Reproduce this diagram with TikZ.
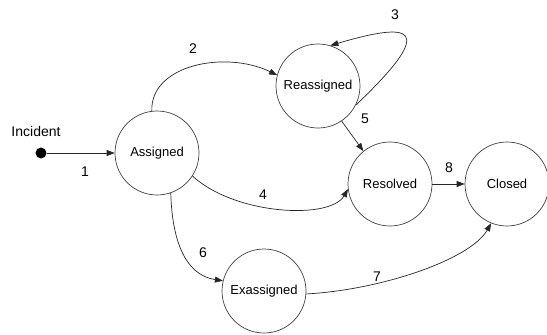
\documentclass[tikz,border=0pt]{standalone}
\usepackage{fontspec}
\setmainfont{Liberation Sans}
\usetikzlibrary{arrows.meta}
\begin{document}
\begin{tikzpicture}[x=1pt,y=-1pt,
  state/.style={draw=black!75,circle,minimum size=84pt,inner sep=0pt,line width=0.7pt,font=\fontsize{13}{15}\selectfont},
  lbl/.style={font=\fontsize{14}{16}\selectfont,inner sep=0pt},
  edge/.style={draw=black!85,line width=0.7pt,-{Triangle[length=8pt,width=6pt]}}]
\useasboundingbox (0,0) rectangle (547,335);
\node[state] (A) at (157,153) {Assigned};
\node[state] (R) at (318,86) {Reassigned};
\node[state] (S) at (390,184) {Resolved};
\node[state] (C) at (507,184) {Closed};
\node[state] (E) at (264,291) {Exassigned};
\node[circle,fill=black,minimum size=11pt,inner sep=0pt] (I) at (41,153) {};
\node[lbl] (It) at (36,131) {Incident};
\draw[edge] (I) -- (A);
\draw[edge] (A.97) .. controls (150,65) and (225,50) .. (R.165);
\draw[edge] (R.-27) .. controls (440,25) and (410,22) .. (R.73);
\draw[edge] (R.-56) -- (S.129);
\draw[edge] (A.-33) .. controls (235,215) and (330,220) .. (S.-173);
\draw[edge] (S.east) -- (C.west);
\draw[edge] (A.-71) .. controls (172,240) and (185,275) .. (E.166);
\draw[edge] (E.-4) .. controls (380,290) and (470,260) .. (C.-112);
\node[lbl] (l1) at (85,172) {1};
\node[lbl] (l2) at (193,49) {2};
\node[lbl] (l3) at (395,15) {3};
\node[lbl] (l4) at (263,195) {4};
\node[lbl] (l5) at (365,119) {5};
\node[lbl] (l6) at (203,253) {6};
\node[lbl] (l7) at (377,277) {7};
\node[lbl] (l8) at (449,168) {8};
\end{tikzpicture}
\end{document}
